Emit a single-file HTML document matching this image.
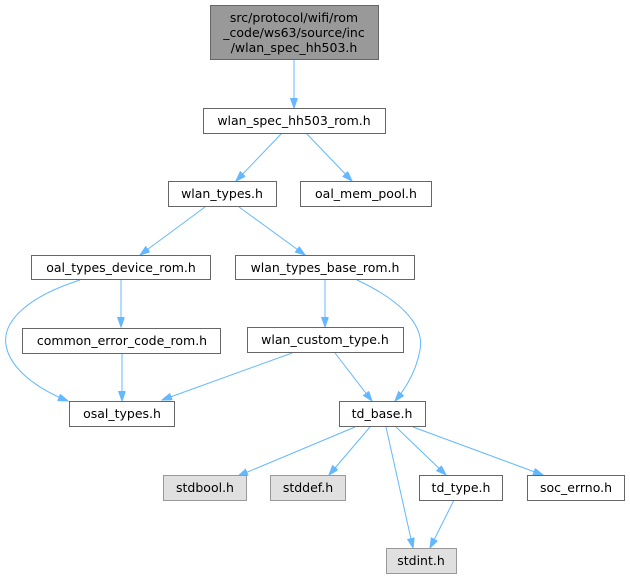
<!DOCTYPE html>
<html><head><meta charset="utf-8"><style>
html,body{margin:0;padding:0;background:#fff;}
svg{display:block;}
text{font-family:"DejaVu Sans","Liberation Sans",sans-serif;font-size:12.5px;fill:#000;}
</style></head><body>
<svg width="630" height="579" viewBox="0 0 630 579" xmlns="http://www.w3.org/2000/svg">
<defs>
<marker id="a" markerWidth="11" markerHeight="8" refX="10" refY="3.5" orient="auto" markerUnits="userSpaceOnUse">
<path d="M0,0 L10,3.5 L0,7 z" fill="#63b8ff" stroke="#63b8ff"/>
</marker>
</defs>
<g fill="none" stroke="#63b8ff" stroke-width="1" marker-end="url(#a)">
<path d="M294,60 L294,108"/>
<path d="M282,133 L236,181"/>
<path d="M306,133 L352,181"/>
<path d="M205,207 L140,255"/>
<path d="M239,207 L305,255"/>
<path d="M121,280 L121,327"/>
<path d="M80,280 C30,296 2,320 6,345 C10,370 40,390 68,401"/>
<path d="M122,353 L122,401"/>
<path d="M325,280 L325,327"/>
<path d="M357,280 C400,300 425,325 420,350 C416,372 406,388 395,401"/>
<path d="M292,353 L162,400"/>
<path d="M335,353 L372,401"/>
<path d="M355,427 L238,476"/>
<path d="M370,427 L329,475"/>
<path d="M386,427 L413,548"/>
<path d="M396,427 L446,475"/>
<path d="M413,427 L543,475"/>
<path d="M454,500 L430,548"/>
</g>
<g stroke="#666" stroke-width="1">
<rect x="210.5" y="5.5" width="168" height="54" fill="#999"/>
<rect x="203.5" y="108.5" width="182" height="25" fill="#fff"/>
<rect x="168.5" y="181.5" width="108" height="25" fill="#fff"/>
<rect x="300.5" y="181.5" width="131" height="25" fill="#fff"/>
<rect x="31.5" y="255.5" width="179" height="24" fill="#fff"/>
<rect x="235.5" y="255.5" width="179" height="24" fill="#fff"/>
<rect x="22.5" y="328.5" width="198" height="25" fill="#fff"/>
<rect x="247.5" y="327.5" width="156" height="25" fill="#fff"/>
<rect x="69.5" y="401.5" width="105" height="25" fill="#fff"/>
<rect x="339.5" y="401.5" width="86" height="25" fill="#fff"/>
<rect x="163.5" y="475.5" width="83" height="25" fill="#e0e0e0" stroke="#999"/>
<rect x="270.5" y="475.5" width="75" height="25" fill="#e0e0e0" stroke="#999"/>
<rect x="419.5" y="475.5" width="83" height="25" fill="#fff"/>
<rect x="527.5" y="475.5" width="97" height="25" fill="#fff"/>
<rect x="386.5" y="548.5" width="70" height="25" fill="#e0e0e0" stroke="#999"/>
</g>
<g text-anchor="middle">
<text x="294" y="22">src/protocol/wifi/rom</text>
<text x="294" y="37">_code/ws63/source/inc</text>
<text x="294" y="52">/wlan_spec_hh503.h</text>
<text x="294" y="125">wlan_spec_hh503_rom.h</text>
<text x="222" y="198">wlan_types.h</text>
<text x="366" y="198">oal_mem_pool.h</text>
<text x="121" y="272">oal_types_device_rom.h</text>
<text x="325" y="272">wlan_types_base_rom.h</text>
<text x="122" y="345">common_error_code_rom.h</text>
<text x="325" y="344">wlan_custom_type.h</text>
<text x="122" y="418">osal_types.h</text>
<text x="382" y="418">td_base.h</text>
<text x="205" y="492">stdbool.h</text>
<text x="308" y="492">stddef.h</text>
<text x="461" y="492">td_type.h</text>
<text x="576" y="492">soc_errno.h</text>
<text x="421" y="565">stdint.h</text>
</g>
</svg>
</body></html>
